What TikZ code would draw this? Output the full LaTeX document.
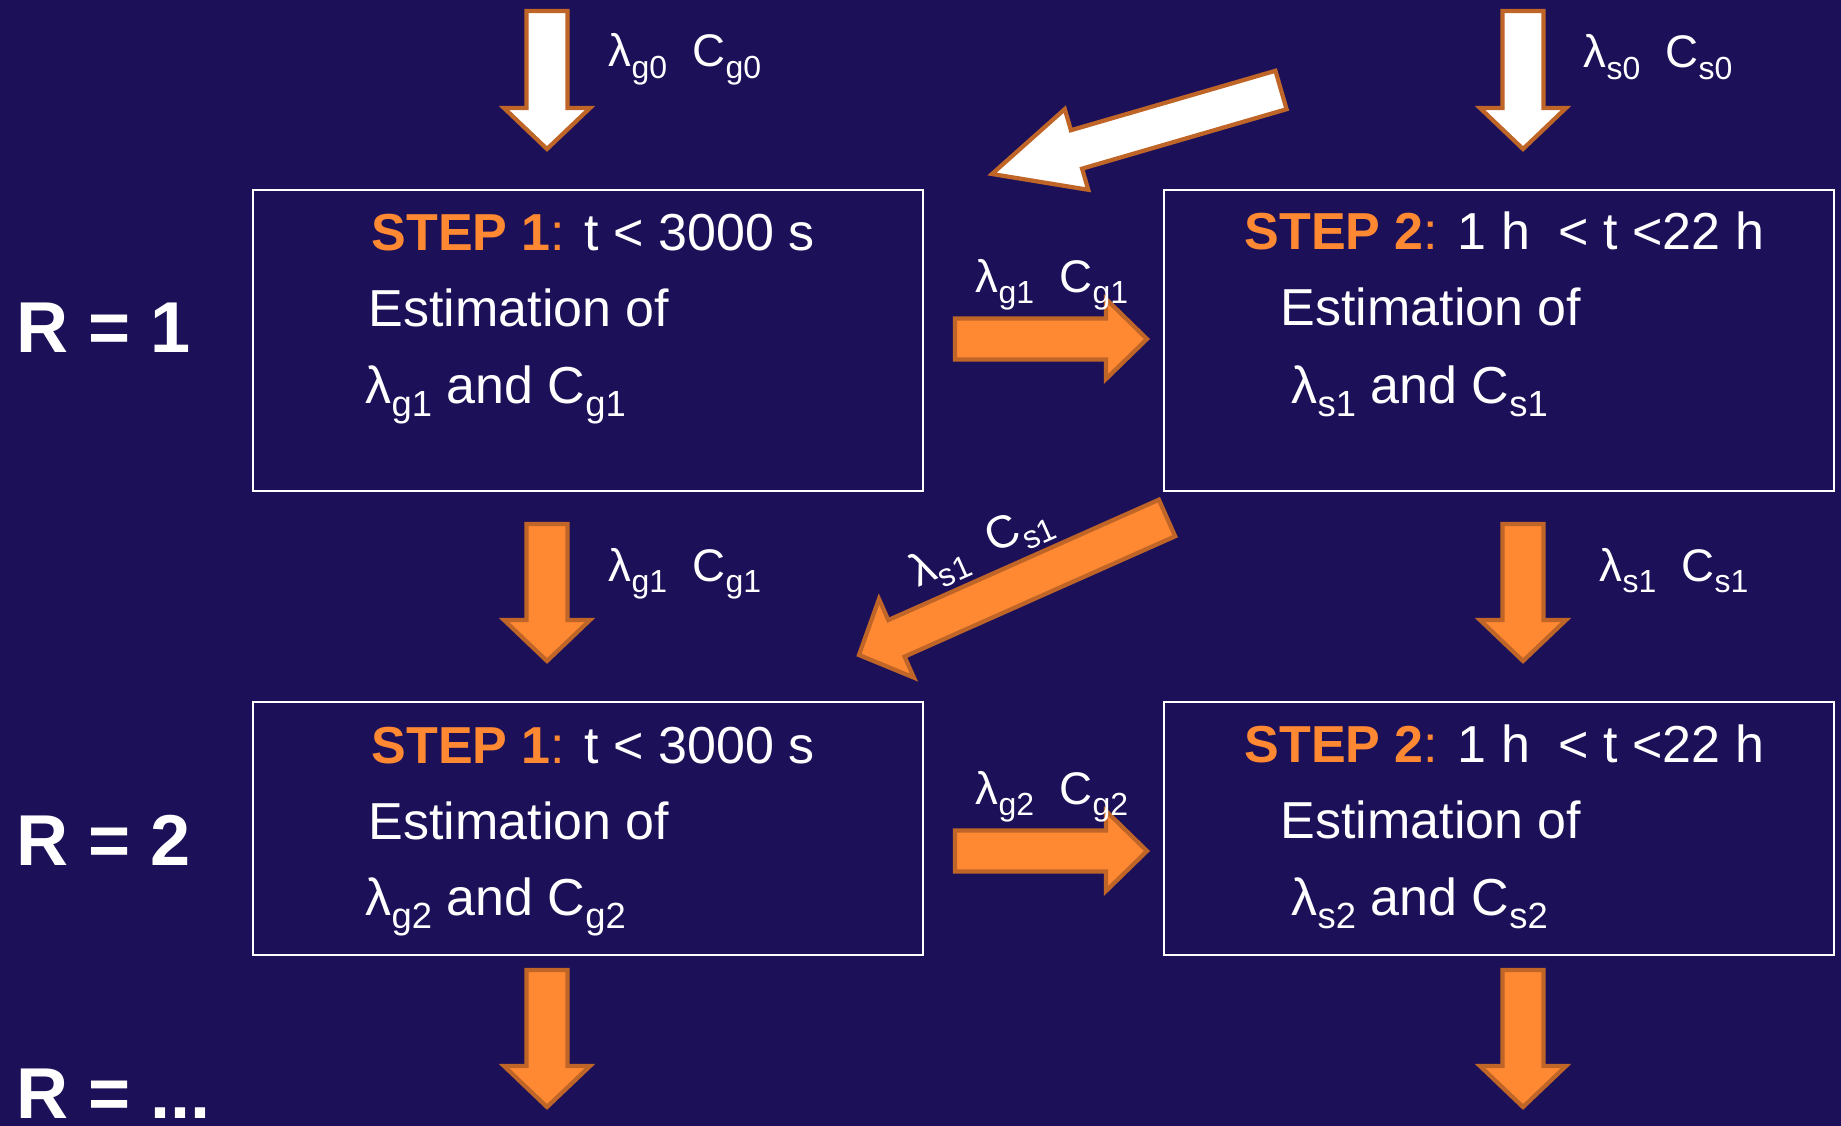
\documentclass[tikz,border=0pt]{standalone}
\usepackage{fontspec}
\setmainfont{Liberation Sans}
\usepackage{graphicx}
\usetikzlibrary{calc}

\definecolor{slidebg}{RGB}{28,16,88}
\definecolor{steporange}{RGB}{255,136,51}
\definecolor{arrowrim}{RGB}{192,101,40}

\newcommand{\lsub}[1]{\raisebox{-0.25em}{\scalebox{0.7}{#1}}}
\newcommand{\steplabel}[1]{\textcolor{steporange}{\textbf{STEP #1}:}}

% block arrow: style, tail, tip, half shaft, half head, head length
\newcommand{\blockarrow}[6]{%
	\path ($(#3)!#6!(#2)$) coordinate (headbase);
	\draw[#1] ($(#2)!#4!90:(#3)$) -- ($(headbase)!#4!90:(#3)$) -- ($(headbase)!#5!90:(#3)$) -- (#3)
		-- ($(headbase)!#5!-90:(#3)$) -- ($(headbase)!#4!-90:(#3)$) -- ($(#2)!#4!-90:(#3)$) -- cycle;}

\begin{document}
\begin{tikzpicture}[every node/.style={font=\fontsize{14.8}{18}\selectfont, text=white, inner sep=0pt},
	stepbox/.style={draw=white, line width=0.7pt, anchor=north west, minimum width=6.70cm},
	whitearrow/.style={fill=white, draw=arrowrim, line width=1.2pt, line join=miter},
	orangearrow/.style={fill=steporange, draw=arrowrim, line width=1.2pt, line join=miter},
	arrowlabel/.style={font=\fontsize{13}{15}\selectfont, anchor=base west},
	roundlabel/.style={font=\fontsize{20.5}{24}\selectfont\bfseries, anchor=base west}]
	\useasboundingbox (0,0) rectangle (18.41,-11.26);
	\fill[slidebg] (0,0) rectangle (18.41,-11.26);

	% the four steps
	\node[stepbox, minimum height=3.01cm] (gbox1) at (2.52,-1.89) {};
	\node[stepbox, minimum height=3.01cm] (sbox1) at (11.63,-1.89) {};
	\node[stepbox, minimum height=2.53cm] (gbox2) at (2.52,-7.01) {};
	\node[stepbox, minimum height=2.53cm] (sbox2) at (11.63,-7.01) {};

	\node[anchor=base west] (gtime1) at (3.71,-2.51) {\steplabel{1} t < 3000 s};
	\node[anchor=base west] (gest1) at (3.68,-3.27) {Estimation of};
	\node[anchor=base west] (gpar1) at (3.65,-4.03) {λ\lsub{g1} and C\lsub{g1}};
	\node[anchor=base west] (stime1) at (12.44,-2.50) {\steplabel{2} 1 h\ \ < t <22 h};
	\node[anchor=base west] (sest1) at (12.80,-3.26) {Estimation of};
	\node[anchor=base west] (spar1) at (12.91,-4.03) {λ\lsub{s1} and C\lsub{s1}};

	\node[anchor=base west] (gtime2) at (3.71,-7.63) {\steplabel{1} t < 3000 s};
	\node[anchor=base west] (gest2) at (3.68,-8.39) {Estimation of};
	\node[anchor=base west] (gpar2) at (3.65,-9.15) {λ\lsub{g2} and C\lsub{g2}};
	\node[anchor=base west] (stime2) at (12.44,-7.62) {\steplabel{2} 1 h\ \ < t <22 h};
	\node[anchor=base west] (sest2) at (12.80,-8.38) {Estimation of};
	\node[anchor=base west] (spar2) at (12.91,-9.15) {λ\lsub{s2} and C\lsub{s2}};

	\node[roundlabel] (round1) at (0.16,-3.53) {R = 1};
	\node[roundlabel] (round2) at (0.16,-8.65) {R = 2};
	\node[roundlabel] (roundn) at (0.16,-11.18) {R = ...};

	% arrow ends
	\coordinate (ginA) at (5.47,-0.11);   \coordinate (ginB) at (5.47,-1.49);
	\coordinate (sinA) at (15.23,-0.11);  \coordinate (sinB) at (15.23,-1.49);
	\coordinate (gdnA) at (5.47,-5.24);   \coordinate (gdnB) at (5.47,-6.61);
	\coordinate (sdnA) at (15.23,-5.24);  \coordinate (sdnB) at (15.23,-6.61);
	\coordinate (goutA) at (5.47,-9.70);  \coordinate (goutB) at (5.47,-11.07);
	\coordinate (soutA) at (15.23,-9.70); \coordinate (soutB) at (15.23,-11.07);
	\coordinate (gs1A) at (9.55,-3.39);   \coordinate (gs1B) at (11.47,-3.39);
	\coordinate (gs2A) at (9.55,-8.51);   \coordinate (gs2B) at (11.47,-8.51);
	\coordinate (backA) at (12.81,-0.90); \coordinate (backB) at (9.92,-1.74);
	\coordinate (sgA) at (11.67,-5.18);   \coordinate (sgB) at (8.59,-6.55);

	\blockarrow{whitearrow}{ginA}{ginB}{0.205cm}{0.43cm}{0.41cm}
	\blockarrow{whitearrow}{sinA}{sinB}{0.205cm}{0.43cm}{0.41cm}
	\blockarrow{whitearrow}{backA}{backB}{0.20cm}{0.42cm}{0.88cm}
	\blockarrow{orangearrow}{gdnA}{gdnB}{0.205cm}{0.43cm}{0.41cm}
	\blockarrow{orangearrow}{sdnA}{sdnB}{0.205cm}{0.43cm}{0.41cm}
	\blockarrow{orangearrow}{goutA}{goutB}{0.205cm}{0.43cm}{0.41cm}
	\blockarrow{orangearrow}{soutA}{soutB}{0.205cm}{0.43cm}{0.41cm}
	\blockarrow{orangearrow}{gs1A}{gs1B}{0.205cm}{0.40cm}{0.41cm}
	\blockarrow{orangearrow}{gs2A}{gs2B}{0.205cm}{0.40cm}{0.41cm}
	\blockarrow{orangearrow}{sgA}{sgB}{0.20cm}{0.43cm}{0.41cm}

	% parameters handed on
	\node[arrowlabel] (gin) at (6.08,-0.67) {λ\lsub{g0}\ \ C\lsub{g0}};
	\node[arrowlabel] (sin) at (15.83,-0.68) {λ\lsub{s0}\ \ C\lsub{s0}};
	\node[arrowlabel] (gs1) at (9.75,-2.92) {λ\lsub{g1}\ \ C\lsub{g1}};
	\node[arrowlabel] (gs2) at (9.75,-8.04) {λ\lsub{g2}\ \ C\lsub{g2}};
	\node[arrowlabel] (gdn) at (6.08,-5.81) {λ\lsub{g1}\ \ C\lsub{g1}};
	\node[arrowlabel] (sdn) at (15.99,-5.81) {λ\lsub{s1}\ \ C\lsub{s1}};
	\node[arrowlabel, anchor=center, rotate=24] (sg) at (9.82,-5.47) {λ\lsub{s1}\ \ C\lsub{s1}};
\end{tikzpicture}
\end{document}
